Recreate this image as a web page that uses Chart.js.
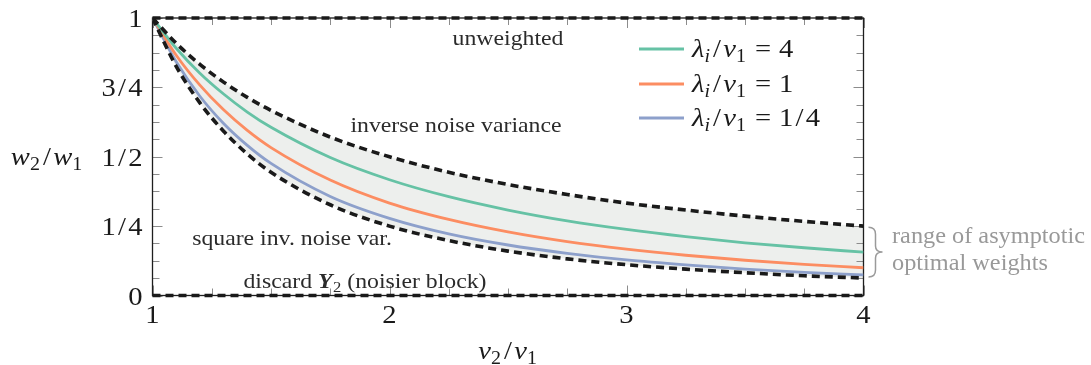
<!DOCTYPE html>
<html>
<head>
<meta charset="utf-8">
<script src="https://cdn.jsdelivr.net/npm/chart.js@4.4.1/dist/chart.umd.min.js"></script>
<style>
  html, body { margin: 0; padding: 0; background: #ffffff; }
  #wrap { width: 1091px; height: 365px; }
</style>
</head>
<body>
<div id="wrap"><canvas id="c" width="1091" height="365"></canvas></div>
<script>
// Noise-variance ratio v2/v1 (horizontal axis)
const noiseRatio = [1, 1.1, 1.2, 1.3, 1.4, 1.5, 1.75, 2, 2.25, 2.5, 2.75, 3, 3.25, 3.5, 3.75, 4];

// Weight ratio w2/w1 for each signal strength
const weightsLambda4 = [1, 0.891, 0.801, 0.726, 0.661, 0.606, 0.497, 0.417, 0.356, 0.308, 0.269, 0.238, 0.212, 0.190, 0.172, 0.156];
const weightsLambda1 = [1, 0.866, 0.758, 0.669, 0.595, 0.533, 0.416, 0.333, 0.274, 0.229, 0.194, 0.167, 0.145, 0.127, 0.112, 0.100];
const weightsLambdaQuarter = [1, 0.842, 0.718, 0.620, 0.541, 0.476, 0.357, 0.278, 0.222, 0.182, 0.152, 0.128, 0.110, 0.095, 0.083, 0.074];

// Reference weightings
const inverseNoiseVar = [1, 0.909, 0.833, 0.769, 0.714, 0.667, 0.571, 0.500, 0.444, 0.400, 0.364, 0.333, 0.308, 0.286, 0.267, 0.250];
const squareInvNoiseVar = [1, 0.826, 0.694, 0.592, 0.510, 0.444, 0.327, 0.250, 0.198, 0.160, 0.132, 0.111, 0.095, 0.082, 0.071, 0.063];
const boundaryRatio = [1, 4];
const unweighted = [1, 1];
const discardNoisier = [0, 0];

// Legend entries
const seriesLabels = ['λ_i/v_1 = 4', 'λ_i/v_1 = 1', 'λ_i/v_1 = 1/4'];

// Tick labels
const yTickValues = [0, 0.25, 0.5, 0.75, 1];
const yTickLabels = ['0', '1/4', '1/2', '3/4', '1'];
const xTickValues = [1, 2, 3, 4];
const xTickLabels = ['1', '2', '3', '4'];

const FAM = '"Liberation Serif", "Times New Roman", serif';
const SERIES_COLORS = ['#66c2a5', '#fc8d62', '#8da0cb'];

function pts(xs, ys) { return xs.map((x, i) => ({ x: x, y: ys[i] })); }

// --- small text engine: roman / italic runs with subscripts, stretched horizontally ---
function isLetter(c) { return /[A-Za-z\u03b1-\u03c9\u0391-\u03a9]/.test(c); }

function mathRuns(str, size) {
  const out = [];
  let i = 0;
  while (i < str.length) {
    const c = str[i];
    if (c === ' ') { i++; continue; }
    if (c === '_') {
      const s = str[i + 1];
      out.push({ t: s, font: (isLetter(s) ? 'italic ' : '') + (size * 0.7) + 'px ' + FAM, dy: size * 0.2, padL: 0, padR: size * 0.03 });
      i += 2; continue;
    }
    if (c === '/') { out.push({ t: '/', font: size + 'px ' + FAM, dy: 0, padL: size * 0.08, padR: size * 0.08 }); i++; continue; }
    if (c === '=') { out.push({ t: '=', font: size + 'px ' + FAM, dy: 0, padL: size * 0.28, padR: size * 0.28 }); i++; continue; }
    out.push({ t: c, font: (isLetter(c) ? 'italic ' : '') + size + 'px ' + FAM, dy: 0, padL: 0, padR: 0 });
    i++;
  }
  return out;
}

function textRuns(parts, size) {
  // parts: [text, kind] with kind 'r' roman, 'bi' bold italic, 'sub' roman subscript
  return parts.map(([t, k]) => {
    if (k === 'bi') return { t, font: 'italic bold ' + size + 'px ' + FAM, dy: 0, padL: 0, padR: size * 0.02 };
    if (k === 'sub') return { t, font: (size * 0.7) + 'px ' + FAM, dy: size * 0.2, padL: 0, padR: 0 };
    return { t, font: size + 'px ' + FAM, dy: 0, padL: 0, padR: 0 };
  });
}

function drawRuns(ctx, runs, x, baseline, align, sx, color) {
  let w = 0;
  runs.forEach(r => { ctx.font = r.font; r.w = ctx.measureText(r.t).width; w += r.padL + r.w + r.padR; });
  const total = w * sx;
  let start = x;
  if (align === 'center') start = x - total / 2;
  else if (align === 'right') start = x - total;
  ctx.save();
  ctx.translate(start, baseline);
  ctx.scale(sx, 1);
  ctx.fillStyle = color;
  ctx.textBaseline = 'alphabetic';
  ctx.textAlign = 'left';
  let cx = 0;
  runs.forEach(r => {
    cx += r.padL;
    ctx.font = r.font;
    ctx.fillText(r.t, cx, r.dy);
    cx += r.w + r.padR;
  });
  ctx.restore();
  return total;
}

// --- frame, inward ticks, labels, legend and annotations ---
const decorPlugin = {
  id: 'decor',
  beforeDatasetsDraw(chart) {
    const ctx = chart.ctx;
    const a = chart.chartArea;
    const xs = chart.scales.x, ys = chart.scales.y;
    ctx.save();
    // inward tick marks on all four sides
    ctx.strokeStyle = '#8c8c8c';
    ctx.lineWidth = 1;
    ctx.beginPath();
    for (let k = 0; k <= 16; k++) {
      const v = k / 16;
      const py = Math.round(ys.getPixelForValue(v)) + 0.5;
      const len = (k % 4 === 0) ? 10 : 7;
      ctx.moveTo(a.left, py); ctx.lineTo(a.left + len, py);
      ctx.moveTo(a.right, py); ctx.lineTo(a.right - len, py);
    }
    for (let k = 0; k <= 12; k++) {
      const v = 1 + k / 4;
      const px = Math.round(xs.getPixelForValue(v)) + 0.5;
      const len = (k % 4 === 0) ? 10 : 7;
      ctx.moveTo(px, a.bottom); ctx.lineTo(px, a.bottom - len);
      ctx.moveTo(px, a.top); ctx.lineTo(px, a.top + len);
    }
    ctx.stroke();
    // axis frame
    ctx.strokeStyle = '#1e1e1e';
    ctx.lineWidth = 1.3;
    ctx.strokeRect(a.left, a.top, a.right - a.left, a.bottom - a.top);
    ctx.restore();
  },
  afterDatasetsDraw(chart) {
    const ctx = chart.ctx;
    const a = chart.chartArea;
    const xs = chart.scales.x, ys = chart.scales.y;
    const MSX = 1.1, MSZ = 26, TSX = 1.08, TSZ = 22;
    const ink = '#1a1a1a', note = '#2b2b2b';

    // tick labels
    yTickValues.forEach((v, i) => {
      const py = ys.getPixelForValue(v);
      drawRuns(ctx, mathRuns(yTickLabels[i], MSZ), a.left - 10, py + 9, 'right', MSX, ink);
    });
    xTickValues.forEach((v, i) => {
      const px = xs.getPixelForValue(v);
      drawRuns(ctx, mathRuns(xTickLabels[i], MSZ), px, a.bottom + 27, 'center', MSX, ink);
    });

    // axis titles
    drawRuns(ctx, mathRuns('w_2/w_1', MSZ), 47, 165, 'center', MSX, ink);
    drawRuns(ctx, mathRuns('v_2/v_1', MSZ), (a.left + a.right) / 2, 359, 'center', MSX, ink);

    // legend
    const legY = [49, 84, 118];
    seriesLabels.forEach((lab, i) => {
      ctx.save();
      ctx.strokeStyle = SERIES_COLORS[i];
      ctx.lineWidth = 2.8;
      ctx.beginPath();
      ctx.moveTo(639, legY[i]); ctx.lineTo(684, legY[i]);
      ctx.stroke();
      ctx.restore();
      drawRuns(ctx, mathRuns(lab, MSZ), 692, legY[i] + 8, 'left', MSX, ink);
    });

    // curve annotations
    drawRuns(ctx, textRuns([['unweighted', 'r']], TSZ), 508, 45, 'center', TSX, note);
    drawRuns(ctx, textRuns([['inverse noise variance', 'r']], TSZ), 456, 132, 'center', TSX, note);
    drawRuns(ctx, textRuns([['square inv. noise var.', 'r']], TSZ), 292, 245, 'center', TSX, note);
    drawRuns(ctx, textRuns([['discard ', 'r'], ['Y', 'bi'], ['2', 'sub'], [' (noisier block)', 'r']], TSZ), 365, 288, 'center', TSX, note);

    // brace spanning the asymptotic weight range at the right edge
    const last = noiseRatio.length - 1;
    const top = ys.getPixelForValue(inverseNoiseVar[last]) + 1;
    const bot = ys.getPixelForValue(squareInvNoiseVar[last]) - 1;
    const mid = (top + bot) / 2;
    const bx = a.right + 5, bw = 14;
    ctx.save();
    ctx.strokeStyle = '#9a9a9a';
    ctx.lineWidth = 1.5;
    ctx.beginPath();
    ctx.moveTo(bx, top);
    ctx.quadraticCurveTo(bx + bw * 0.5, top, bx + bw * 0.5, top + 7);
    ctx.lineTo(bx + bw * 0.5, mid - 6);
    ctx.quadraticCurveTo(bx + bw * 0.5, mid, bx + bw, mid);
    ctx.quadraticCurveTo(bx + bw * 0.5, mid, bx + bw * 0.5, mid + 6);
    ctx.lineTo(bx + bw * 0.5, bot - 7);
    ctx.quadraticCurveTo(bx + bw * 0.5, bot, bx, bot);
    ctx.stroke();
    ctx.restore();
    drawRuns(ctx, textRuns([['range of asymptotic', 'r']], 22.5), 892, 243, 'left', TSX, '#999999');
    drawRuns(ctx, textRuns([['optimal weights', 'r']], 22.5), 892, 270, 'left', TSX, '#999999');
  }
};

const dashed = { borderColor: '#1a1a1a', borderWidth: 3.6, borderDash: [8, 5], borderCapStyle: 'butt', pointRadius: 0, fill: false };

new Chart(document.getElementById('c'), {
  type: 'line',
  data: {
    datasets: [
      { label: seriesLabels[0], data: pts(noiseRatio, weightsLambda4), borderColor: SERIES_COLORS[0], borderWidth: 2.8, pointRadius: 0, fill: false, order: 2, cubicInterpolationMode: 'monotone' },
      { label: seriesLabels[1], data: pts(noiseRatio, weightsLambda1), borderColor: SERIES_COLORS[1], borderWidth: 2.8, pointRadius: 0, fill: false, order: 2, cubicInterpolationMode: 'monotone' },
      { label: seriesLabels[2], data: pts(noiseRatio, weightsLambdaQuarter), borderColor: SERIES_COLORS[2], borderWidth: 2.8, pointRadius: 0, fill: false, order: 2, cubicInterpolationMode: 'monotone' },
      Object.assign({}, dashed, { label: 'inverse noise variance', data: pts(noiseRatio, inverseNoiseVar), fill: '+1', backgroundColor: '#edefed', order: 1, cubicInterpolationMode: 'monotone' }),
      Object.assign({}, dashed, { label: 'square inv. noise var.', data: pts(noiseRatio, squareInvNoiseVar), order: 1, cubicInterpolationMode: 'monotone' }),
      Object.assign({}, dashed, { label: 'unweighted', data: pts(boundaryRatio, unweighted), order: 0, clip: 6 }),
      Object.assign({}, dashed, { label: 'discard', data: pts(boundaryRatio, discardNoisier), order: 0, clip: 6 })
    ]
  },
  options: {
    responsive: false,
    devicePixelRatio: 1,
    animation: false,
    events: [],
    layout: { padding: { left: 152.5, right: 227.5, top: 18, bottom: 69.5 } },
    scales: {
      x: { type: 'linear', min: 1, max: 4, display: false },
      y: { type: 'linear', min: 0, max: 1, display: false }
    },
    plugins: {
      legend: { display: false },
      tooltip: { enabled: false },
      filler: { drawTime: 'beforeDatasetsDraw' }
    }
  },
  plugins: [decorPlugin]
});
</script>
</body>
</html>
